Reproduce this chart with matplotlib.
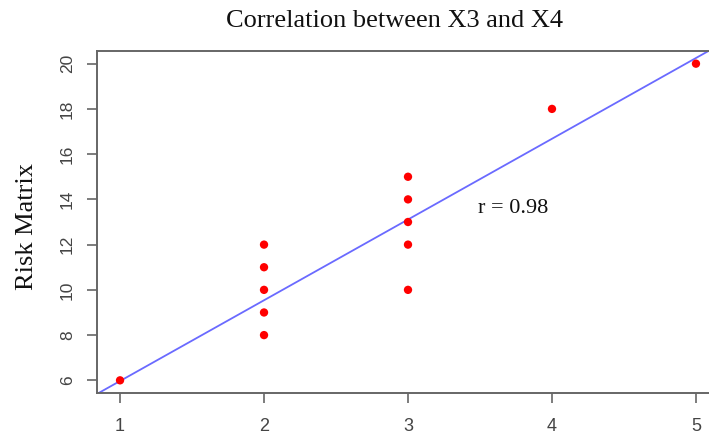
import numpy as np
import matplotlib.pyplot as plt

# data
x3 = [1, 2, 2, 2, 2, 2, 3, 3, 3, 3, 3, 4, 5]
x4 = [6, 8, 9, 10, 11, 12, 10, 12, 13, 14, 15, 18, 20]
x_ticks = [1, 2, 3, 4, 5]
y_ticks = [6, 8, 10, 12, 14, 16, 18, 20]

# fitted line (abline) as it appears in the picture
SLOPE = 3.57
INTERCEPT = 2.40
R_LABEL = "r = 0.98"

# R-style axis range: data range padded by 4%
def r_range(v):
    lo, hi = min(v), max(v)
    pad = 0.04 * (hi - lo)
    return lo - pad, hi + pad


fig = plt.figure(figsize=(7.09, 4.34), dpi=100)
ax = fig.add_axes([97 / 709, 41 / 434, 622 / 709, 342 / 434])

xlim = r_range(x3)
ylim = r_range(x4)

xs = np.array(xlim)
ax.plot(xs, INTERCEPT + SLOPE * xs, color="#6a6aff", linewidth=1.3, zorder=2)
ax.scatter(x3, x4, s=36, color="#ff0000", edgecolors="none", zorder=3)

ax.set_xlim(*xlim)
ax.set_ylim(*ylim)
ax.set_xticks(x_ticks)
ax.set_yticks(y_ticks)
ax.set_xticklabels([str(t) for t in x_ticks])
ax.set_yticklabels([str(t) for t in y_ticks], rotation=90, va="center")

for side in ["left", "right", "top", "bottom"]:
    ax.spines[side].set_color("#666666")
    ax.spines[side].set_linewidth(1.4)

ax.tick_params(axis="both", direction="out", length=7, width=1.2, color="#666666",
               labelcolor="#444444")
ax.tick_params(axis="x", pad=11, labelsize=13)
ax.tick_params(axis="y", pad=9, labelsize=12.5)
for lab in ax.get_xticklabels() + ax.get_yticklabels():
    lab.set_family("Liberation Sans")

ax.text(3.73, 13.6, R_LABEL, fontsize=16, family="Liberation Serif",
        ha="center", va="center", color="#111111")

fig.text(395 / 709, 1 - 21 / 434, "Correlation between X3 and X4", fontsize=19,
         family="Liberation Serif", ha="center", va="center", color="#111111")
fig.text(27 / 709, 1 - 227 / 434, "Risk Matrix", fontsize=19, rotation=90,
         family="Liberation Serif", ha="center", va="center", color="#111111")

fig.savefig("out.png", dpi=100)
